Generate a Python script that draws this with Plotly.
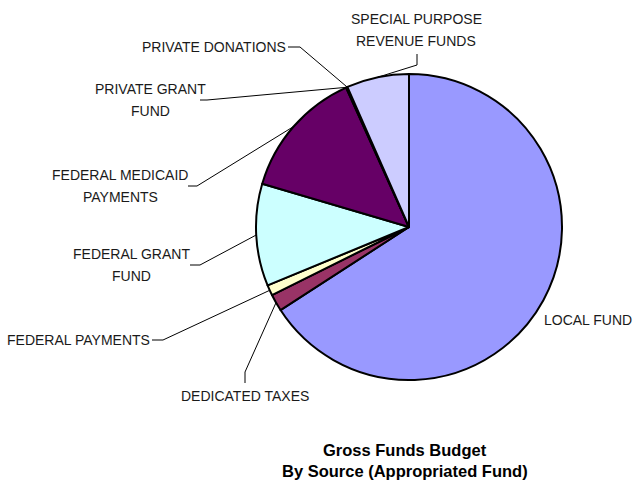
import math
import plotly.graph_objects as go

# Gross funds budget by source (appropriated fund), share of total in percent
sources = [
    "LOCAL FUND",
    "DEDICATED TAXES",
    "FEDERAL PAYMENTS",
    "FEDERAL GRANT FUND",
    "FEDERAL MEDICAID PAYMENTS",
    "PRIVATE GRANT FUND",
    "PRIVATE DONATIONS",
    "SPECIAL PURPOSE REVENUE FUNDS",
]
shares = [65.9, 1.8, 1.1, 10.8, 13.7, 0.1, 0.05, 6.6]
slice_colors = ["#9999FF", "#993366", "#FFFFCC", "#CCFFFF",
                "#660066", "#FF8080", "#0066CC", "#CCCCFF"]

W, H = 636, 487
CX, CY, R = 409, 227, 153  # pie centre and radius in pixels

FONT = "Liberation Sans Narrow, Arial Narrow, Liberation Sans, Arial"
TXT = "#1a1a1a"

fig = go.Figure()
fig.add_trace(go.Pie(
    labels=sources,
    values=shares,
    sort=False,
    direction="clockwise",
    rotation=0,
    marker=dict(colors=slice_colors, line=dict(color="black", width=2)),
    textinfo="none",
    hoverinfo="label+percent",
    showlegend=False,
    domain=dict(x=[(CX - R) / W, (CX + R) / W],
                y=[(H - CY - R) / H, (H - CY + R) / H]),
))


def slice_mid_point(i):
    """Point on the pie rim at the angular middle of slice i."""
    total = sum(shares)
    start = sum(shares[:i]) / total * 360
    mid = start + shares[i] / total * 360 / 2
    a = math.radians(mid)
    return CX + R * math.sin(a), CY - R * math.cos(a)


# label text lines: (text, x, y, xanchor); leader path start points before the rim
labels = {
    0: dict(lines=[("LOCAL FUND", 634, 320, "right")], path=None),
    1: dict(lines=[("DEDICATED TAXES", 245, 396, "center")],
            path=[(245, 383), (245, 372)]),
    2: dict(lines=[("FEDERAL PAYMENTS", 152, 340, "right")],
            path=[(152, 340), (163, 340)]),
    3: dict(lines=[("FEDERAL GRANT", 131, 254, "center"), ("FUND", 131, 276, "center")],
            path=[(190, 265), (200, 265)]),
    4: dict(lines=[("FEDERAL MEDICAID", 120, 175, "center"), ("PAYMENTS", 120, 197, "center")],
            path=[(188, 186), (197, 186)]),
    5: dict(lines=[("PRIVATE GRANT", 150, 89, "center"), ("FUND", 150, 111, "center")],
            path=[(200, 100), (207, 100)]),
    6: dict(lines=[("PRIVATE DONATIONS", 288, 47, "right")],
            path=[(288, 47), (300, 47)]),
    7: dict(lines=[("SPECIAL PURPOSE", 416, 19, "center"), ("REVENUE FUNDS", 416, 41, "center")],
            path=[(417, 54), (417, 65)]),
}

annotations = []
shapes = []
for i, spec in labels.items():
    for text, x, y, xa in spec["lines"]:
        annotations.append(dict(
            x=x, y=y, xref="x", yref="y", text=text, showarrow=False,
            xanchor=xa, yanchor="middle",
            font=dict(family=FONT, size=14, color=TXT),
        ))
    if spec["path"]:
        pts = spec["path"] + [slice_mid_point(i)]
        d = "M " + " L ".join(f"{px:.1f},{py:.1f}" for px, py in pts)
        shapes.append(dict(type="path", path=d, xref="x", yref="y",
                           line=dict(color="black", width=1)))

for text, y in [("Gross Funds Budget", 450), ("By Source (Appropriated Fund)", 471)]:
    annotations.append(dict(
        x=405, y=y, xref="x", yref="y", text=f"<b>{text}</b>", showarrow=False,
        xanchor="center", yanchor="middle",
        font=dict(family=FONT, size=16.5, color="black"),
    ))

fig.update_layout(
    width=W, height=H,
    margin=dict(l=0, r=0, t=0, b=0),
    paper_bgcolor="white", plot_bgcolor="rgba(0,0,0,0)",
    xaxis=dict(range=[0, W], visible=False, fixedrange=True),
    yaxis=dict(range=[H, 0], visible=False, fixedrange=True),
    annotations=annotations,
    shapes=shapes,
)

fig.write_html("out.html")
